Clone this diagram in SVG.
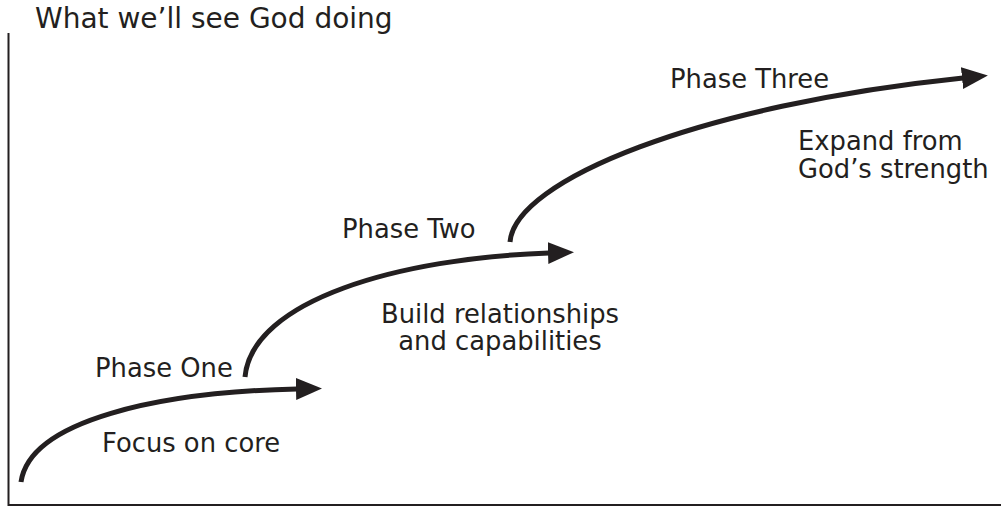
<svg xmlns="http://www.w3.org/2000/svg" width="1001" height="507" viewBox="0 0 1001 507">
  <style>
    .lbl { font-family: "DejaVu Sans", "Liberation Sans", sans-serif; font-size: 25.8px; fill: #231f20; }
    .title { font-size: 28px; }
    .axis { fill: none; stroke: #231f20; stroke-width: 2; }
    .arrow { fill: none; stroke: #231f20; stroke-width: 5; marker-end: url(#head); }
  </style>
  <defs>
    <marker id="head" markerUnits="userSpaceOnUse" markerWidth="28" markerHeight="24" viewBox="0 0 28 24" refX="1" refY="12" orient="auto">
      <path d="M0,1 L26,12 L0,23 Z" fill="#231f20"/>
    </marker>
  </defs>
  <rect width="1001" height="507" fill="#ffffff"/>

  <g id="axes">
    <path class="axis" d="M8.5,33 L8.5,505 L1001,505"/>
    <text class="lbl title" x="35" y="28">What we’ll see God doing</text>
  </g>

  <g id="connectors">
    <path class="arrow" d="M21,482 C30,420 160,392 297,389"/>
    <path class="arrow" d="M245,377 C252,300 400,258 549,253"/>
    <path class="arrow" d="M510,242 C515,180 700,105 963,78"/>
  </g>

  <g id="phase-one">
    <text class="lbl" x="95" y="377">Phase One</text>
    <text class="lbl" x="102" y="452">Focus on core</text>
  </g>

  <g id="phase-two">
    <text class="lbl" x="342" y="238">Phase Two</text>
    <text class="lbl" x="500" y="323" text-anchor="middle">Build relationships</text>
    <text class="lbl" x="500" y="350" text-anchor="middle">and capabilities</text>
  </g>

  <g id="phase-three">
    <text class="lbl" x="670" y="88">Phase Three</text>
    <text class="lbl" x="798" y="150">Expand from</text>
    <text class="lbl" x="798" y="178">God’s strength</text>
  </g>
</svg>
